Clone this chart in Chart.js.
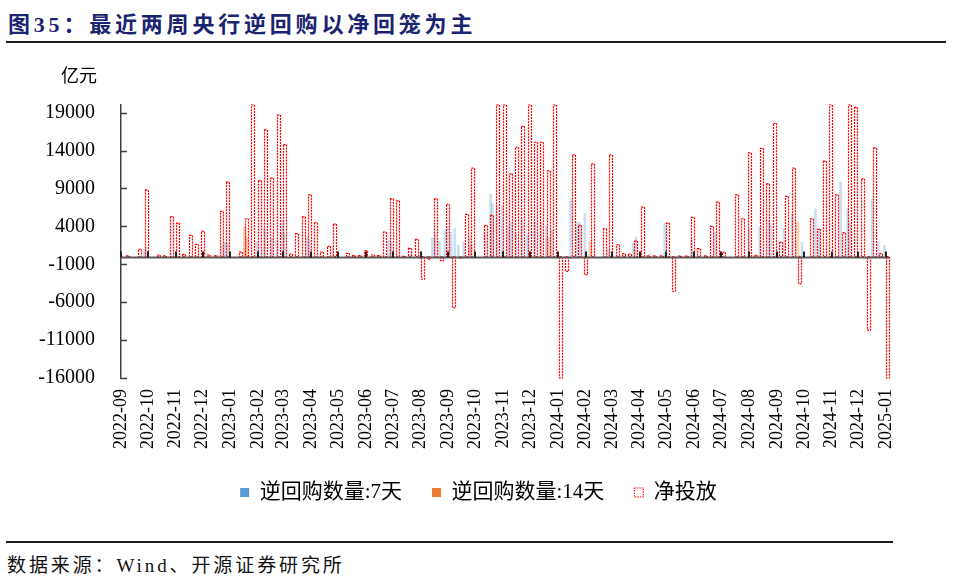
<!DOCTYPE html>
<html>
<head>
<meta charset="utf-8">
<script src="https://cdn.jsdelivr.net/npm/chart.js@4.4.1/dist/chart.umd.min.js"></script>
<style>
  html, body { margin: 0; padding: 0; background: #fff; }
  body { width: 960px; height: 580px; position: relative; overflow: hidden;
         font-family: "Liberation Serif", "Noto Sans CJK SC", serif; }
  #title { position: absolute; left: 8px; top: 6px; font-size: 22px; font-weight: bold;
           color: #1b2470; letter-spacing: 3.8px; white-space: nowrap; }
  #rule1 { position: absolute; left: 6px; top: 41px; width: 940px; height: 2px; background: #1a1a1a; }
  #rule2 { position: absolute; left: 6px; top: 541px; width: 887px; height: 2px; background: #1a1a1a; }
  #source { position: absolute; left: 7px; top: 550px; font-size: 19px; color: #111;
            letter-spacing: 2.9px; white-space: nowrap; }
  #wrap { position: absolute; left: 0; top: 58px; width: 928px; height: 482px; }
</style>
</head>
<body>
<div id="title">图35：最近两周央行逆回购以净回笼为主</div>
<div id="rule1"></div>
<div id="wrap"><canvas id="chart"></canvas></div>
<div id="rule2"></div>
<div id="source">数据来源：Wind、开源证券研究所</div>
<script>
// month tick labels on the x axis
const tickLabels = ['2022-09', '2022-10', '2022-11', '2022-12', '2023-01', '2023-02', '2023-03',
  '2023-04', '2023-05', '2023-06', '2023-07', '2023-08', '2023-09', '2023-10', '2023-11',
  '2023-12', '2024-01', '2024-02', '2024-03', '2024-04', '2024-05', '2024-06', '2024-07',
  '2024-08', '2024-09', '2024-10', '2024-11', '2024-12', '2025-01'];
const yTicks = [-16000, -11000, -6000, -1000, 4000, 9000, 14000, 19000];

// weekly net injection, one value per week starting netStart
const netStart = '2022-09-01';
const netValues = [
  0, 100, 0, 960, 8800, 0, 200, 100, 5300, 4430,
  300, 2800, 1620, 3330, 200, 150, 5960, 9820, 0, 600,
  5000, 20000, 10040, 16710, 10350, 18680, 14780, 350, 3030, 5260,
  8160, 4470, 600, 1360, 4300, 0, 440, 130, 130, 790,
  220, 130, 3250, 7630, 7370, 50, 1100, 2280, -2980, -350,
  7630, -530, 6890, -6710, -175, 5570, 11670, 0, 4120, 5440,
  20000, 20000, 10920, 14430, 17190, 20000, 15090, 15090, 11320, 20000,
  -16000, -1930, 13420, 4120, -2370, 12240, 0, 3680, 13420, 1580,
  400, 350, 2060, 6540, 100, 100, 100, 4430, -4560, 90,
  90, 5180, 1050, 100, 3990, 7190, 570, 0, 8160, 5000,
  13680, 175, 14300, 9600, 17590, 1930, 7940, 11670, -3550, 0,
  5000, 3600, 12590, 20000, 8160, 3160, 20000, 19690, 10260, -9690,
  14340, 400, -16000
];

// 7-day reverse repo (daily operations that show in the picture)
const repo7Dates = ['2022-09-27', '2022-09-29', '2022-12-23', '2022-12-26', '2022-12-29',
  '2023-01-30', '2023-02-08', '2023-02-16', '2023-02-22', '2023-02-28', '2023-03-02',
  '2023-03-27', '2023-03-30', '2023-04-25', '2023-06-26', '2023-06-29', '2023-08-14',
  '2023-08-17', '2023-08-22', '2023-08-28', '2023-08-31', '2023-09-04', '2023-09-08',
  '2023-09-12', '2023-09-18', '2023-09-25', '2023-10-12', '2023-10-18', '2023-10-20',
  '2023-10-25', '2023-10-31', '2023-11-06', '2023-11-10', '2023-11-15', '2023-11-22',
  '2023-11-28', '2023-12-06', '2023-12-13', '2023-12-19', '2023-12-25', '2024-01-15',
  '2024-01-22', '2024-01-25', '2024-01-31', '2024-02-26', '2024-03-25', '2024-03-28',
  '2024-04-29', '2024-05-29', '2024-06-24', '2024-08-01', '2024-08-13', '2024-08-23',
  '2024-08-26', '2024-09-09', '2024-09-18', '2024-09-29', '2024-10-14', '2024-10-18',
  '2024-11-11', '2024-11-19', '2024-11-22', '2024-12-16', '2024-12-23', '2024-12-30'];
const repo7Values = [1000, 1300, 1500, 1900, 1700, 2000, 3700, 2400, 1900, 4800, 3000,
  2600, 2200, 1270, 2150, 1800, 2500, 3000, 2000, 3500, 3900, 3200, 3700, 1500, 1900,
  2500, 3000, 8250, 7000, 6750, 6750, 4000, 4560, 3000, 5000, 3000, 4560, 4560, 4100,
  3500, 7630, 4560, 4500, 5660, 1000, 1800, 2600, 4430, 2370, 3250, 3700, 3900, 4800,
  4200, 3700, 5660, 1900, 6300, 3700, 9820, 6300, 4500, 7540, 1900, 1500];

// 14-day reverse repo
const repo14Dates = ['2023-01-17', '2023-01-19', '2023-09-26', '2023-12-21', '2024-02-06', '2024-09-24'];
const repo14Values = [3900, 2500, 1500, 2500, 2000, 4560];

const legendColors = ['#5b9bd5', '#ed7d31', '#ff0000'];
const FONT = '"Liberation Serif", "Noto Sans CJK SC", serif';

const origin = Date.UTC(2022, 8, 1);
function dayOf(s) {
  const [y, m, d] = s.split('-').map(Number);
  return (Date.UTC(y, m - 1, d || 1) - origin) / 86400000;
}
const netStartDay = dayOf(netStart);
const netPoints = netValues.map((v, i) => ({ x: netStartDay + 7 * i, y: v }));
const repo7Points = repo7Dates.map((d, i) => ({ x: dayOf(d), y: repo7Values[i] }));
const repo14Points = repo14Dates.map((d, i) => ({ x: dayOf(d), y: repo14Values[i] }));

// dotted red outline for net bars, zero line, month marks, inner y ticks, unit
const axisMarks = {
  id: 'axisMarks',
  afterDatasetsDraw(chart) {
    const { ctx, chartArea: a, scales: { x, y } } = chart;
    const zero = Math.round(y.getPixelForValue(0)) + 0.5;
    ctx.save();
    ctx.beginPath();
    ctx.rect(a.left, a.top - 1, a.right - a.left + 2, a.bottom - a.top + 2);
    ctx.clip();
    ctx.strokeStyle = '#ff0000';
    ctx.lineWidth = 1.2;
    ctx.setLineDash([2, 1]);
    chart.getDatasetMeta(2).data.forEach((bar, i) => {
      if (!netValues[i]) return;
      const p = bar.getProps(['x', 'y', 'base', 'width'], true);
      const left = Math.round(p.x - p.width / 2) + 0.5;
      ctx.strokeRect(left, Math.min(p.y, p.base), p.width, Math.abs(p.base - p.y));
    });
    ctx.restore();

    ctx.save();
    ctx.setLineDash([]);
    ctx.strokeStyle = '#5a5a5a';
    ctx.lineWidth = 1.8;
    ctx.beginPath();
    ctx.moveTo(a.left, zero);
    ctx.lineTo(a.right, zero);
    ctx.stroke();

    ctx.strokeStyle = '#222';
    ctx.lineWidth = 2;
    ctx.beginPath();
    x.ticks.forEach(t => {
      const px = Math.round(x.getPixelForValue(t.value));
      ctx.moveTo(px, zero);
      ctx.lineTo(px, zero - 6);
    });
    ctx.stroke();

    ctx.strokeStyle = '#404040';
    ctx.lineWidth = 1.5;
    ctx.beginPath();
    y.ticks.forEach(t => {
      const py = Math.round(y.getPixelForValue(t.value)) + 0.5;
      ctx.moveTo(a.left, py);
      ctx.lineTo(a.left + 6, py);
    });
    ctx.stroke();

    ctx.fillStyle = '#000';
    ctx.font = '18px ' + FONT;
    ctx.textAlign = 'center';
    ctx.textBaseline = 'middle';
    ctx.fillText('亿元', a.left - 42, a.top - 28);
    ctx.restore();
  }
};

new Chart(document.getElementById('chart'), {
  type: 'bar',
  data: {
    datasets: [
      { label: '逆回购数量:7天', data: repo7Points, backgroundColor: 'rgba(91,155,213,0.32)',
        barThickness: 2, grouped: false },
      { label: '逆回购数量:14天', data: repo14Points, backgroundColor: 'rgba(237,125,49,0.32)',
        barThickness: 3, grouped: false },
      { label: '净投放', data: netPoints, backgroundColor: 'rgba(0,0,0,0)',
        barThickness: 3, grouped: false }
    ]
  },
  options: {
    responsive: true,
    maintainAspectRatio: false,
    animation: false,
    layout: { padding: { left: 29, right: 0, top: 47, bottom: 27 } },
    scales: {
      x: {
        type: 'linear', min: 0, max: 856, offset: false,
        afterBuildTicks: s => { s.ticks = tickLabels.map(l => ({ value: dayOf(l + '-01') })); },
        afterFit: s => { s.height = 74; },
        grid: { display: false, drawTicks: false },
        border: { display: false },
        ticks: {
          autoSkip: false, maxRotation: 90, minRotation: 90, padding: 11, color: '#000',
          font: { family: FONT, size: 18 },
          callback: (v, i) => tickLabels[i]
        }
      },
      y: {
        min: -16000, max: 20000,
        afterBuildTicks: s => { s.ticks = yTicks.map(v => ({ value: v })); },
        afterFit: s => { s.width = 92; },
        grid: { display: false, drawTicks: false },
        border: { display: true, color: '#404040', width: 1.5 },
        ticks: { padding: 26, color: '#000', font: { family: FONT, size: 20 }, callback: v => String(v) }
      },
      // empty right-hand box: keeps the plot's right edge where the legend stays centred
      yRight: {
        position: 'right',
        afterFit: s => { s.width = 39; },
        grid: { display: false, drawTicks: false },
        border: { display: false },
        ticks: { display: false }
      }
    },
    plugins: {
      tooltip: { enabled: false },
      legend: {
        position: 'bottom',
        labels: {
          boxWidth: 9, boxHeight: 9, padding: 30, color: '#000',
          font: { family: FONT, size: 21 },
          generateLabels: chart => chart.data.datasets.map((ds, i) => ({
            text: ds.label,
            fillStyle: i === 2 ? 'rgba(0,0,0,0)' : legendColors[i],
            strokeStyle: legendColors[i],
            lineWidth: i === 2 ? 1 : 0,
            lineDash: i === 2 ? [1.5, 1] : [],
            fontColor: '#000',
            hidden: false,
            datasetIndex: i
          }))
        }
      }
    }
  },
  plugins: [axisMarks]
});
</script>
</body>
</html>
